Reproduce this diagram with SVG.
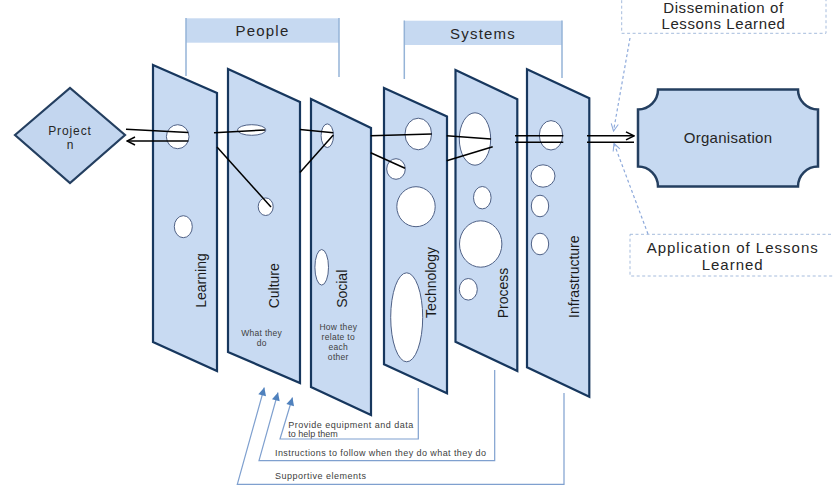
<svg xmlns="http://www.w3.org/2000/svg" width="833" height="488" viewBox="0 0 833 488">
<defs>
<style>
.panel{fill:#C8DAF2;stroke:#17375E;stroke-width:2.2;stroke-linejoin:miter}
.hole{fill:#FFFFFF;stroke:#4F6186;stroke-width:1}
.lbl{font-family:"Liberation Sans",Arial,sans-serif;font-size:14px;fill:#1A1A1A;text-anchor:middle}
.small{font-family:"Liberation Sans",Arial,sans-serif;font-size:8.5px;fill:#404040;text-anchor:middle;letter-spacing:0.3px}
.note{font-family:"Liberation Sans",Arial,sans-serif;font-size:9px;fill:#404040}
.big{font-family:"Liberation Sans",Arial,sans-serif;font-size:15px;fill:#262626;text-anchor:middle}
.hdr{fill:#C6D9F1}
.hline{stroke:#95B3D7;stroke-width:1.5;fill:none}
.blk{stroke:#000000;stroke-width:1.5;fill:none}
.dash{stroke:#8EAADB;stroke-width:1.2;stroke-dasharray:3,2.5;fill:none}
.dbox{stroke:#A6BCDD;stroke-width:1;stroke-dasharray:3,2.5;fill:none}
.blue{stroke:#7FA0CF;stroke-width:1.2;fill:none}
</style>
<marker id="open" viewBox="0 0 10 10" refX="9" refY="5" markerWidth="10" markerHeight="10" markerUnits="userSpaceOnUse" orient="auto">
<path d="M1,1 L9,5 L1,9" fill="none" stroke="#000" stroke-width="1.5"/>
</marker>
<marker id="dopen" viewBox="0 0 10 10" refX="9" refY="5" markerWidth="9" markerHeight="9" markerUnits="userSpaceOnUse" orient="auto">
<path d="M1,1 L9,5 L1,9" fill="none" stroke="#8EAADB" stroke-width="1.2"/>
</marker>
<marker id="tri" viewBox="0 0 10 10" refX="10" refY="5" markerWidth="9" markerHeight="8" markerUnits="userSpaceOnUse" orient="auto">
<path d="M0,0 L10,5 L0,10 Z" fill="#4F81BD"/>
</marker>
</defs>
<rect width="833" height="488" fill="#FFFFFF"/>

<g id="header-people">
<rect class="hdr" x="186" y="18.3" width="153" height="24.4"/>
<line class="hline" x1="186" y1="18" x2="186" y2="76"/>
<line class="hline" x1="339" y1="18" x2="339" y2="77"/>
<text class="big" x="262.5" y="36" letter-spacing="1.2">People</text>
</g>
<g id="header-systems">
<rect class="hdr" x="404.3" y="20.7" width="157.7" height="24.3"/>
<line class="hline" x1="404.3" y1="20.5" x2="404.3" y2="79"/>
<line class="hline" x1="562" y1="20.5" x2="562" y2="78"/>
<text class="big" x="483" y="38.5" letter-spacing="1.2">Systems</text>
</g>

<g id="project">
<polygon points="15,135 70,88 125,135 70,183" fill="#C3D6EF" stroke="#243F60" stroke-width="2.2"/>
<text class="lbl" x="70" y="134.5" style="font-size:12px;letter-spacing:0.9px;fill:#262626">Project</text>
<text class="lbl" x="70" y="148.5" style="font-size:12px;fill:#262626">n</text>
</g>

<g id="learning">
<polygon class="panel" points="153,65 217,93 217,371 153,342"/>
<ellipse class="hole" cx="177.7" cy="136.7" rx="11.3" ry="12"/>
<ellipse class="hole" cx="183.3" cy="226.7" rx="9" ry="11"/>
<text class="lbl" transform="translate(206,280.5) rotate(-90)">Learning</text>
</g>
<g id="culture">
<polygon class="panel" points="228,69 300,102 300,383 228,352"/>
<ellipse class="hole" cx="251.7" cy="130" rx="14.2" ry="5.3"/>
<ellipse class="hole" cx="265.7" cy="206.7" rx="7.5" ry="8.8"/>
<text class="lbl" transform="translate(279,285.8) rotate(-90)">Culture</text>
<text class="small" x="261.7" y="336.3">What they</text>
<text class="small" x="261.7" y="346.3">do</text>
</g>
<g id="social">
<polygon class="panel" points="311,99 371,128 371,415 311,387"/>
<ellipse class="hole" cx="327.3" cy="135.7" rx="6.2" ry="11.8"/>
<ellipse class="hole" cx="321.7" cy="267.3" rx="6.8" ry="17.8"/>
<text class="lbl" transform="translate(346.5,288.8) rotate(-90)">Social</text>
<text class="small" x="338.3" y="330.3">How they</text>
<text class="small" x="338.3" y="340">relate to</text>
<text class="small" x="338.3" y="349.7">each</text>
<text class="small" x="338.3" y="359.7">other</text>
</g>
<g id="technology">
<polygon class="panel" points="384,88 447,116.5 447,393.3 384,364.3"/>
<ellipse class="hole" cx="418.3" cy="134" rx="13.3" ry="15.8"/>
<ellipse class="hole" cx="396" cy="169" rx="9.3" ry="10.3"/>
<ellipse class="hole" cx="416" cy="206.7" rx="19.2" ry="20"/>
<ellipse class="hole" cx="406.7" cy="317.3" rx="16" ry="44.5"/>
<text class="lbl" transform="translate(435.5,282.5) rotate(-90)">Technology</text>
</g>
<g id="process">
<polygon class="panel" points="455.5,70 517.3,99.3 517.3,371 455.5,341.7"/>
<ellipse class="hole" cx="475" cy="139" rx="15.7" ry="26.2"/>
<ellipse class="hole" cx="482.3" cy="197.7" rx="8.8" ry="11.2"/>
<ellipse class="hole" cx="480.7" cy="244" rx="21.2" ry="23.2"/>
<ellipse class="hole" cx="468.3" cy="289.3" rx="9" ry="10.8"/>
<text class="lbl" transform="translate(507.5,293) rotate(-90)">Process</text>
</g>
<g id="infrastructure">
<polygon class="panel" points="527,69.3 589.3,98.3 589.3,396.7 527,367.3"/>
<ellipse class="hole" cx="551" cy="135.3" rx="11.7" ry="14.7"/>
<ellipse class="hole" cx="543" cy="176" rx="12" ry="11.2"/>
<ellipse class="hole" cx="540" cy="206" rx="8.7" ry="10.8"/>
<ellipse class="hole" cx="540" cy="244" rx="8.7" ry="10.8"/>
<text class="lbl" transform="translate(579,276.7) rotate(-90)">Infrastructure</text>
</g>

<g id="organisation">
<path d="M658,89.5 H798 A20,20 0 0 0 818,109.5 V166.5 A20,20 0 0 0 798,186.5 H658 A20,20 0 0 0 638,166.5 V109.5 A20,20 0 0 0 658,89.5 Z" fill="#C6D9F1" stroke="#243F60" stroke-width="2.5"/>
<text class="big" x="728" y="143" letter-spacing="0.3">Organisation</text>
</g>
<g id="dissemination">
<rect class="dbox" x="621.7" y="-12" width="204.3" height="45.3"/>
<text class="big" x="723.5" y="13" letter-spacing="0.6">Dissemination of</text>
<text class="big" x="723.5" y="28.5" letter-spacing="0.6">Lessons Learned</text>
</g>
<g id="application">
<rect class="dbox" x="630" y="234.3" width="215" height="41.7"/>
<text class="big" x="732.7" y="252.5" letter-spacing="1">Application of Lessons</text>
<text class="big" x="732.7" y="269.5" letter-spacing="1">Learned</text>
</g>

<g id="notes">
<text class="note" x="288.3" y="427.5" textLength="125" lengthAdjust="spacing">Provide equipment and data</text>
<text class="note" x="288.3" y="437.3">to help them</text>
<text class="note" x="275" y="456" textLength="211" lengthAdjust="spacing">Instructions to follow when they do what they do</text>
<text class="note" x="275" y="479.3" textLength="91" lengthAdjust="spacing">Supportive elements</text>
</g>

<g id="connectors">
<line class="blk" x1="126" y1="129.3" x2="188.3" y2="132.5"/>
<line class="blk" x1="188.3" y1="141" x2="127" y2="141" marker-end="url(#open)"/>
<line class="blk" x1="214" y1="132.7" x2="265" y2="130"/>
<line class="blk" x1="217" y1="147" x2="271" y2="207"/>
<line class="blk" x1="300" y1="129.5" x2="333.3" y2="132.8"/>
<line class="blk" x1="300" y1="172.5" x2="333.3" y2="135"/>
<line class="blk" x1="370.7" y1="135.7" x2="431.7" y2="134"/>
<line class="blk" x1="370.7" y1="152.7" x2="405" y2="168.3"/>
<line class="blk" x1="446.7" y1="135.7" x2="491" y2="139"/>
<line class="blk" x1="446.7" y1="160.7" x2="492.7" y2="146.7"/>
<line class="blk" x1="515" y1="135.8" x2="563.3" y2="135.8"/>
<line class="blk" x1="515" y1="142.3" x2="563.3" y2="142.3"/>
<line class="blk" x1="587" y1="135.8" x2="634" y2="135.8" marker-end="url(#open)"/>
<line class="blk" x1="587" y1="142.3" x2="634" y2="142.3"/>
<line class="dash" x1="630" y1="38" x2="613.5" y2="131" marker-end="url(#dopen)"/>
<line class="dash" x1="648" y1="234" x2="614" y2="143.5" marker-end="url(#dopen)"/>
<polyline class="blue" points="418.3,388 418.3,439 280,439 292.5,397.5" marker-end="url(#tri)"/>
<polyline class="blue" points="494.7,370 494.7,460.7 259,460.7 278,392.5" marker-end="url(#tri)"/>
<polyline class="blue" points="564,393 564,484.3 237.3,484.3 264.3,387.5" marker-end="url(#tri)"/>
</g>
</svg>
